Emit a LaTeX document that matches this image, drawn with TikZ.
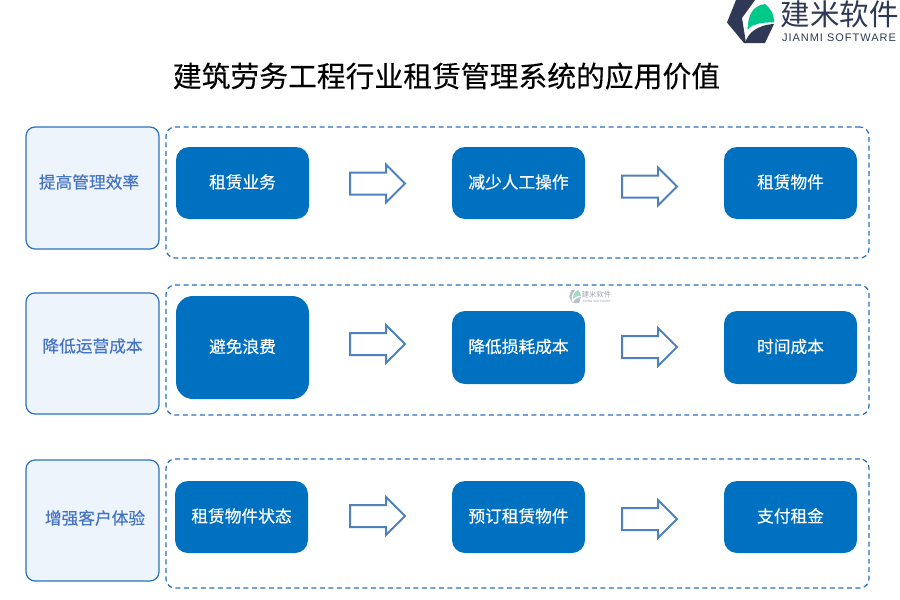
\documentclass[tikz,border=0pt]{standalone}
\usepackage{fontspec}
\setmainfont{Liberation Sans}
\newfontfamily\cjk{Noto Sans CJK SC}
\newfontfamily\cjkmed[FakeBold=0.25]{Noto Sans CJK SC}
\newfontfamily\cjkstep[FakeBold=0.5]{Noto Sans CJK SC}
\usetikzlibrary{shapes.arrows}
\definecolor{boxblue}{HTML}{0070C0}
\definecolor{linkblue}{HTML}{2A72BC}
\definecolor{labelfill}{HTML}{EDF4FB}
\definecolor{labeltext}{HTML}{4472C4}
\definecolor{arrowblue}{HTML}{4F81BD}
\definecolor{logodark}{HTML}{2F3854}
\definecolor{logogreen}{HTML}{00C78A}
\tikzset{
  x=1pt,y=-1pt,
  sidebox/.style={draw=linkblue,fill=labelfill,line width=1.2pt,rounded corners=9pt,minimum width=133pt,outer sep=0pt,inner sep=0pt},
  sidetext/.style={text=labeltext,font=\cjkmed\fontsize{16.7}{18}\selectfont,inner sep=0pt},
  groupbox/.style={draw=linkblue,dash pattern=on 5pt off 3.5pt,line width=1.2pt,rounded corners=9pt,minimum width=703pt,outer sep=0pt,inner sep=0pt},
  stepbox/.style={fill=boxblue,text=white,rounded corners=13pt,minimum width=133pt,outer sep=0pt,inner sep=0pt,text height=14pt,text depth=3.3pt,font=\cjkstep\fontsize{16.7}{18}\selectfont},
  blockarrow/.style={draw=arrowblue,fill=white,line width=2pt,single arrow,shape border rotate=0,minimum height=55pt,minimum width=37pt,single arrow head extend=8pt,inner xsep=0pt,inner ysep=10pt,outer sep=0pt},
}
\begin{document}
\begin{tikzpicture}
\useasboundingbox (0,0) rectangle (900,600);
% logo
\fill[logodark] (736,0) -- (755,0) -- (742,18) -- (746,43) -- (744,43) -- (727,22.5) -- cycle;
\fill[logogreen] (747.5,30) .. controls (748,15) and (752,6) .. (765,4) .. controls (770,8) and (774,13) .. (774,22.5) .. controls (762,22) and (752,24) .. (747.5,30) -- cycle;
\fill[logodark] (745,43) .. controls (748,33) and (757,25) .. (774,24) -- (765,43) -- cycle;
\node (logotext) at (839.5,14) {\cjk\fontsize{29.5}{30}\selectfont\textcolor{logodark}{建米软件}};
\node (logosub) at (839,38) {\fontsize{11}{12}\selectfont\addfontfeature{LetterSpace=9}\textcolor{logodark}{JIANMI SOFTWARE}};
% title
\node (title) at (446.5,76) {\cjkmed\fontsize{28.8}{32}\selectfont 建筑劳务工程行业租赁管理系统的应用价值};
% group frames
\node[groupbox,minimum height=131pt] (g1) at (517.5,192.5) {};
\node[groupbox,minimum height=130pt] (g2) at (517.5,350) {};
\node[groupbox,minimum height=129pt] (g3) at (517.5,523.5) {};
% side labels
\node[sidebox,minimum height=122pt] (s1) at (92.5,188) {};
\node[sidebox,minimum height=121pt] (s2) at (92.5,353.5) {};
\node[sidebox,minimum height=121pt] (s3) at (92.5,520.5) {};
\node[sidetext] (s1t) at (89,182) {提高管理效率};
\node[sidetext] (s2t) at (92.5,346) {降低运营成本};
\node[sidetext] (s3t) at (95,518) {增强客户体验};
% row 1
\node[stepbox,minimum height=72pt] (a1) at (242.5,183) {租赁业务};
\node[stepbox,minimum height=72pt] (a2) at (518.5,183) {减少人工操作};
\node[stepbox,minimum height=72pt] (a3) at (790.5,183) {租赁物件};
\node[blockarrow] (a12) at (372,183.5) {};
\node[blockarrow] (a23) at (644,186.5) {};
% row 2
\node[stepbox,minimum height=103pt,rounded corners=17pt] (b1) at (242.5,347.5) {避免浪费};
\node[stepbox,minimum height=73pt] (b2) at (518.5,347.5) {降低损耗成本};
\node[stepbox,minimum height=73pt] (b3) at (790.5,347.5) {时间成本};
\node[blockarrow] (b12) at (372,344) {};
\node[blockarrow] (b23) at (644,347) {};
% row 3
\node[stepbox,minimum height=72pt] (c1) at (241.5,517) {租赁物件状态};
\node[stepbox,minimum height=72pt] (c2) at (518.5,517) {预订租赁物件};
\node[stepbox,minimum height=72pt] (c3) at (790.5,517) {支付租金};
\node[blockarrow] (c12) at (372,516) {};
\node[blockarrow] (c23) at (644,519) {};
% watermark
\begin{scope}[opacity=.45]
\fill[logodark!70] (571.5,290) -- (575,290) -- (571.5,296) -- (572.5,303) -- (569,296.5) -- cycle;
\fill[logogreen!60!gray] (573,299) .. controls (573,294) and (575,291) .. (578,290) .. controls (580,292) and (581,294) .. (581,296) .. controls (577,296) and (575,297) .. (573,299) -- cycle;
\fill[logodark!70] (573,303) .. controls (574,300) and (577,297.5) .. (581,297) -- (579,303) -- cycle;
\node[inner sep=0pt] (wmark) at (596.5,294.5) {\cjk\fontsize{7.3}{8}\selectfont\textcolor{logodark}{建米软件}};
\node[inner sep=0pt] (wmarksub) at (596.5,301) {\fontsize{3}{3}\selectfont\textcolor{logodark}{JIANMI SOFTWARE}};
\end{scope}
\end{tikzpicture}
\end{document}
